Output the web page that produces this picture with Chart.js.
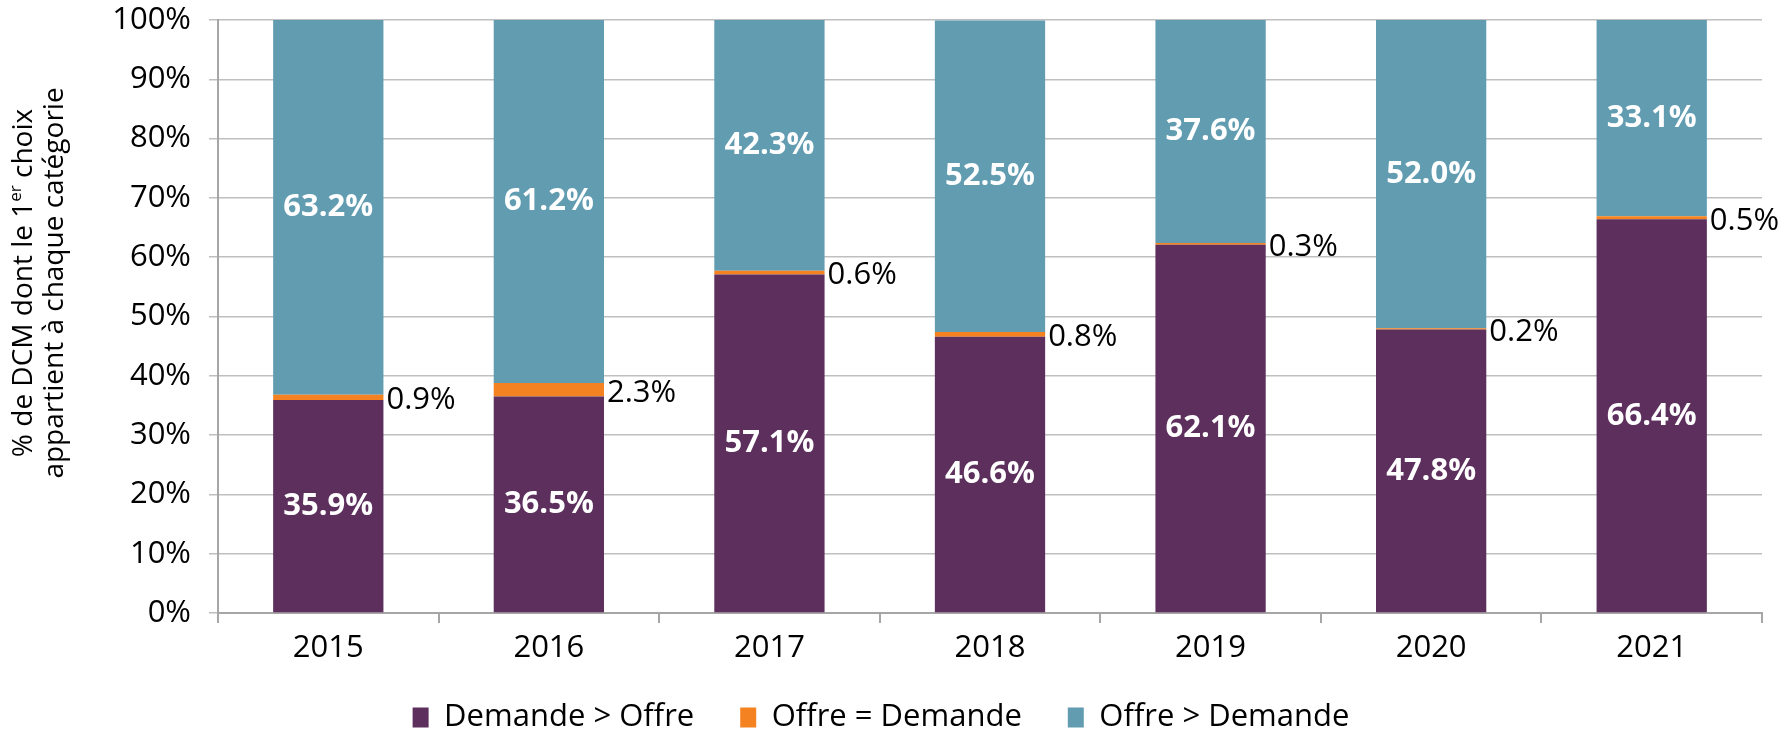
<!DOCTYPE html>
<html>
<head>
<meta charset="utf-8">
<script src="https://cdn.jsdelivr.net/npm/chart.js@4/dist/chart.umd.min.js"></script>
<style>
	body { margin: 0; background: #fff; }
	canvas { display: block; }
</style>
</head>
<body>
<canvas id="dcmChart" width="1783" height="730"></canvas>
<script>
// data
var years = ['2015', '2016', '2017', '2018', '2019', '2020', '2021'];
var demandeSupOffre = [35.9, 36.5, 57.1, 46.6, 62.1, 47.8, 66.4];
var offreEgalDemande = [0.9, 2.3, 0.6, 0.8, 0.3, 0.2, 0.5];
var offreSupDemande = [63.2, 61.2, 42.3, 52.5, 37.6, 52.0, 33.1];
var yTicks = [0, 10, 20, 30, 40, 50, 60, 70, 80, 90, 100];

const FONT = '"Open Sans", "Noto Sans", sans-serif';

// value labels: white bold inside the big segments, black beside the thin one
const valueLabels = {
	id: 'valueLabels',
	afterDatasetsDraw: function(chart)
	{
		const ctx = chart.ctx;
		ctx.save();
		ctx.textBaseline = 'middle';
		chart.data.datasets.forEach(function(ds, dsIndex) {
			const meta = chart.getDatasetMeta(dsIndex);
			meta.data.forEach(function(bar, i) {
				const txt = ds.data[i].toFixed(1) + '%';
				const midY = (bar.y + bar.base) / 2;
				if(dsIndex == 1)
				{
					ctx.font = '31px ' + FONT;
					ctx.fillStyle = '#000';
					ctx.textAlign = 'left';
					ctx.fillText(txt, bar.x + bar.width / 2 + 3, midY + 3);
				}
				else
				{
					ctx.font = 'bold 31px ' + FONT;
					ctx.fillStyle = '#fff';
					ctx.textAlign = 'center';
					ctx.fillText(txt, bar.x, midY);
				}
			});
		});
		ctx.restore();
	}
};

// rotated two line axis title with a real superscript
const axisTitle = {
	id: 'axisTitle',
	afterDraw: function(chart)
	{
		const ctx = chart.ctx;
		const cy = 283;
		ctx.save();
		ctx.fillStyle = '#000';
		ctx.textBaseline = 'middle';
		ctx.textAlign = 'left';

		// line 1
		ctx.save();
		ctx.translate(24, cy);
		ctx.rotate(-Math.PI / 2);
		ctx.font = '28px ' + FONT;
		const a = '% de DCM dont le 1', c = ' choix';
		const wa = ctx.measureText(a).width, wc = ctx.measureText(c).width;
		ctx.font = '17px ' + FONT;
		const wb = ctx.measureText('er').width;
		let x = -(wa + wb + wc) / 2;
		ctx.font = '28px ' + FONT;
		ctx.fillText(a, x, 0);
		x += wa;
		ctx.font = '17px ' + FONT;
		ctx.fillText('er', x, -8);
		x += wb;
		ctx.font = '28px ' + FONT;
		ctx.fillText(c, x, 0);
		ctx.restore();

		// line 2
		ctx.save();
		ctx.translate(55, cy);
		ctx.rotate(-Math.PI / 2);
		ctx.font = '28px ' + FONT;
		ctx.textAlign = 'center';
		ctx.fillText('appartient à chaque catégorie', 0, 0);
		ctx.restore();

		ctx.restore();
	}
};

// pull the legend down closer to the bottom edge
const legendNudge = {
	id: 'legendNudge',
	beforeLayout: function(chart)
	{
		if(chart.legend && !chart.legend._nudged)
		{
			const origFit = chart.legend.fit;
			chart.legend.fit = function() {
				origFit.call(this);
				this.height -= 13;
			};
			chart.legend._nudged = true;
		}
	}
};

const config = {
	type: 'bar',
	data: {
		labels: years,
		datasets: [
			{ label: 'Demande > Offre', data: demandeSupOffre, backgroundColor: '#5C2F5C' },
			{ label: 'Offre = Demande', data: offreEgalDemande, backgroundColor: '#F58220' },
			{ label: 'Offre > Demande', data: offreSupDemande, backgroundColor: '#619CB1' }
		]
	},
	options: {
		responsive: false,
		animation: false,
		layout: { padding: { top: 20, right: 21, left: 0, bottom: 0 } },
		datasets: {
			bar: { barPercentage: 0.5, categoryPercentage: 1.0 }
		},
		scales: {
			x: {
				stacked: true,
				grid: { display: true, drawOnChartArea: false, drawTicks: true, tickLength: 10, color: '#A6A6A6', lineWidth: 2, offset: true },
				border: { color: '#A6A6A6', width: 2 },
				ticks: { color: '#000', font: { family: FONT, size: 31 }, padding: 7 },
				afterFit: function(scale) {
					scale.height = 43;
					// don't clip the year labels to the (short) scale box
					scale._computeLabelArea = function() { return undefined; };
				}
			},
			y: {
				stacked: true,
				min: 0,
				max: 100,
				afterBuildTicks: function(scale) {
					scale.ticks = yTicks.map(function(v) { return { value: v }; });
				},
				grid: { color: '#BFBFBF', lineWidth: 1.5, tickLength: 9 },
				border: { color: '#A6A6A6', width: 2 },
				ticks: {
					color: '#000',
					font: { family: FONT, size: 31 },
					padding: 18,
					callback: function(v) { return v + '%'; }
				},
				afterFit: function(scale) {
					scale.width = 218;
					scale.paddingTop = 0;
					scale.paddingBottom = 0;
				}
			}
		},
		plugins: {
			legend: {
				position: 'bottom',
				labels: {
					color: '#000',
					font: { family: FONT, size: 31 },
					boxWidth: 16,
					boxHeight: 20,
					padding: 46
				}
			},
			tooltip: { enabled: false }
		}
	},
	plugins: [valueLabels, axisTitle, legendNudge]
};

new Chart(document.getElementById('dcmChart'), config);
</script>
</body>
</html>
